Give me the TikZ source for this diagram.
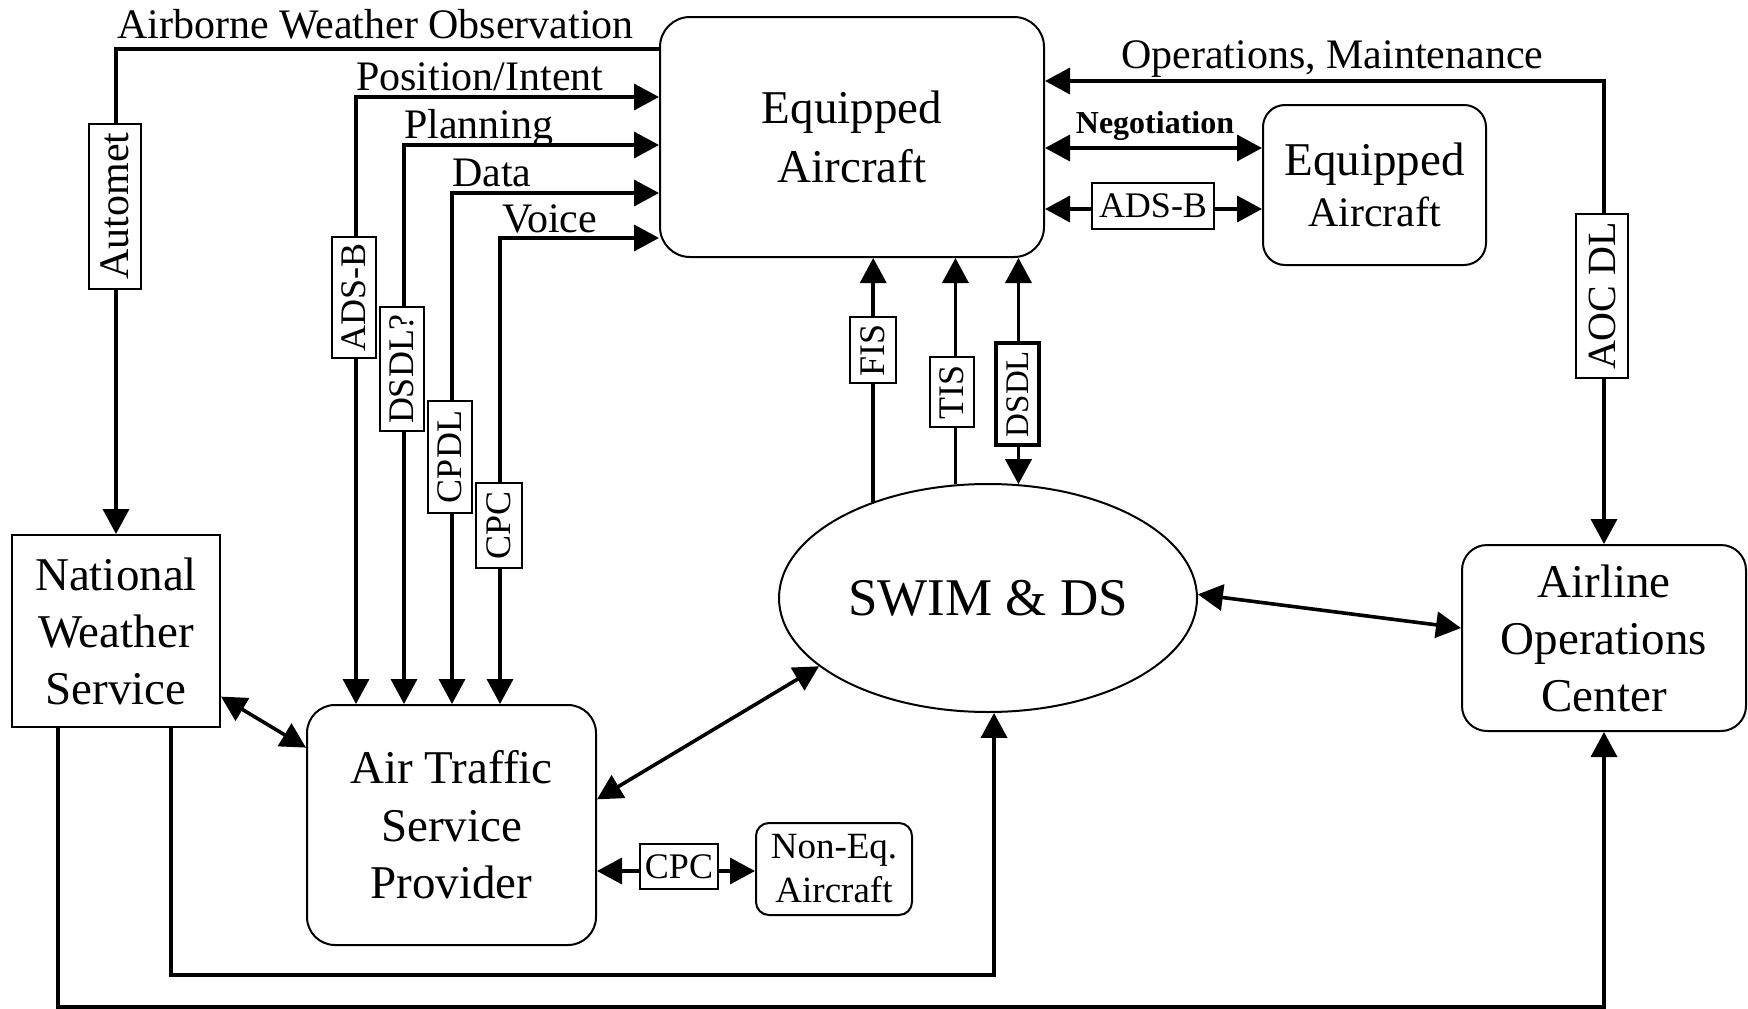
\documentclass[tikz,border=0pt]{standalone}
\usepackage{fontspec}
\setmainfont{Liberation Serif}
\usetikzlibrary{arrows.meta,shapes.geometric,calc}

\tikzset{
  box/.style={draw, line width=2pt, align=center, inner sep=0pt},
  link/.style={line width=3.6pt},
  tag/.style={draw, line width=2pt, fill=white, inner sep=0pt, rotate=90,
    font={\fontsize{36}{36}\selectfont}},
  htag/.style={draw, line width=2pt, fill=white, inner sep=0pt,
    font={\fontsize{36}{36}\selectfont}},
  lbl/.style={inner sep=0pt, font={\fontsize{42}{42}\selectfont}},
}

\begin{document}
\begin{tikzpicture}[x=1pt, y=-1pt, >={Triangle[length=25pt,width=26pt]}]
\fill[white] (0,0) rectangle (1748,1009);
\useasboundingbox (0,0) rectangle (1748,1009);

% main blocks
\node[box, rounded corners=30pt, minimum width=384pt, minimum height=240pt,
  font={\fontsize{47}{59}\selectfont}] (ea) at (852,137) {Equipped\\Aircraft};
\node[box, rounded corners=22pt, minimum width=223pt, minimum height=160pt,
  font={\fontsize{47}{51}\selectfont}] (ea2) at (1374.5,185)
  {Equipped\\{\fontsize{42}{51}\selectfont Aircraft}};
\node[box, minimum width=208pt, minimum height=192pt,
  font={\fontsize{47}{57}\selectfont}] (nws) at (116,631) {National\\Weather\\Service};
\node[box, rounded corners=28pt, minimum width=289pt, minimum height=240pt,
  font={\fontsize{47}{57.5}\selectfont}] (atsp) at (451.5,825) {Air Traffic\\Service\\Provider};
\node[box, rounded corners=13pt, minimum width=156pt, minimum height=92pt,
  font={\fontsize{37}{44}\selectfont}] (neq) at (834,869) {Non-Eq.\\Aircraft};
\node[box, rounded corners=25pt, minimum width=284pt, minimum height=186pt,
  font={\fontsize{47}{57}\selectfont}] (aoc) at (1604,638) {Airline\\Operations\\Center};
\node[draw, line width=2pt, ellipse, inner sep=0pt, minimum width=418pt,
  minimum height=228pt, font={\fontsize{53}{60}\selectfont}] (swim) at (988,598) {SWIM \& DS};

% routing points
\coordinate (kAuto) at (116,49);
\coordinate (kPI) at (356,97);
\coordinate (kPl) at (404,145);
\coordinate (kDa) at (452,193);
\coordinate (kVo) at (500,238);
\coordinate (kOps) at (1604,81);
\coordinate (kNeg) at (1154,148);
\coordinate (kAdsb) at (1153,209);
\coordinate (kCpc) at (679,871);
\coordinate (kB1) at (171,975);
\coordinate (kB0) at (58,1007);

% connectors
\draw[link, ->] (ea.west |- kAuto) -- (kAuto) -- (nws.north);
\draw[link, <->] (atsp.north -| kPI) -- (kPI) -- (ea.west |- kPI);
\draw[link, <->] (atsp.north -| kPl) -- (kPl) -- (ea.west |- kPl);
\draw[link, <->] (atsp.north -| kDa) -- (kDa) -- (ea.west |- kDa);
\draw[link, <->] (atsp.north -| kVo) -- (kVo) -- (ea.west |- kVo);
\draw[link, <->] (aoc.north) -- (kOps) -- (ea.east |- kOps);
\draw[link, <->] (ea.east |- kNeg) -- (ea2.west |- kNeg);
\draw[link, <->] (ea.east |- kAdsb) -- (ea2.west |- kAdsb);
\draw[link, ->] (swim.140.4) -- (swim.140.4 |- ea.south);
\draw[link, ->] (swim.106.8) -- (swim.106.8 |- ea.south);
\draw[link, <->] (swim.75.6) -- (swim.75.6 |- ea.south);
\draw[link, <->] (nws.-32.2) -- (atsp.152.7);
\draw[link, <->] (atsp.10.9) -- (swim.202.7);
\draw[link, <->] (swim.1) -- (aoc.176);
\draw[link, <->] (atsp.east |- kCpc) -- (neq.west |- kCpc);
\draw[link, ->] (nws.south -| kB1) -- (kB1) -| (swim.273.5);
\draw[link, ->] (nws.south -| kB0) -- (kB0) -| (aoc.south);

% channel tags
\node[tag, minimum width=165pt, minimum height=52pt,
  font={\fontsize{42}{42}\selectfont}] (tAuto) at (115,206) {Automet};
\node[tag, minimum width=121pt, minimum height=44pt] (tAdsbV) at (354,297.5) {ADS-B};
\node[tag, minimum width=124pt, minimum height=44pt] (tDsdlQ) at (402,369) {DSDL?};
\node[tag, minimum width=112pt, minimum height=44pt] (tCpdl) at (450,457) {CPDL};
\node[tag, minimum width=85pt, minimum height=46pt] (tCpc) at (499,525.5) {CPC};
\node[tag, minimum width=66pt, minimum height=46pt] (tFis) at (873,350) {FIS};
\node[tag, minimum width=70pt, minimum height=44pt] (tTis) at (952,392) {TIS};
\node[tag, line width=4pt, minimum width=102pt, minimum height=43pt,
  font={\fontsize{33}{33}\selectfont}] (tDsdl) at (1017.5,394) {DSDL};
\node[tag, minimum width=164pt, minimum height=52pt,
  font={\fontsize{40}{40}\selectfont}] (tAoc) at (1602,296) {AOC DL};
\node[htag, minimum width=122pt, minimum height=46pt] (tAdsbH) at (1153,206) {ADS-B};
\node[htag, minimum width=78pt, minimum height=45pt] (tCpcH) at (679,866.5) {CPC};

% flow labels
\node[lbl, anchor=base west] (lAir) at (117,38) {Airborne Weather Observation};
\node[lbl, anchor=base west] (lPos) at (356,90) {Position/Intent};
\node[lbl, anchor=base west] (lPlan) at (404,138) {Planning};
\node[lbl, anchor=base west] (lData) at (452,186) {Data};
\node[lbl, anchor=base west] (lVoice) at (502,232) {Voice};
\node[lbl, anchor=base west] (lOps) at (1121,68) {Operations, Maintenance};
\node[lbl, anchor=base, font={\fontsize{32}{32}\selectfont\bfseries}] (lNeg) at (1155,133) {Negotiation};
\end{tikzpicture}
\end{document}
